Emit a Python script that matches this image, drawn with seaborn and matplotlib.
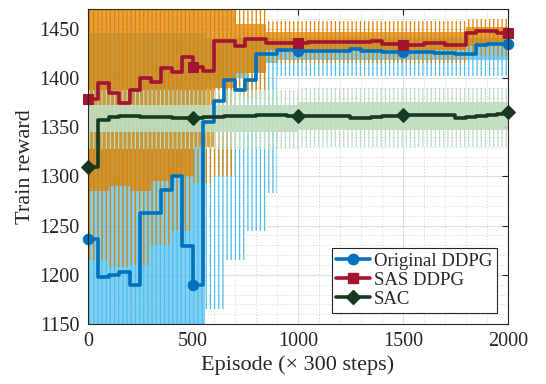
import numpy as np
import matplotlib
matplotlib.use('Agg')
import matplotlib.pyplot as plt
from matplotlib.lines import Line2D
from matplotlib.ticker import MultipleLocator
import seaborn as sns

# block values (one every 50 episodes, last one at 2000)
episodes = np.arange(0, 2001, 50)
orig_ddpg = [1236, 1198, 1200, 1203, 1190, 1263, 1263, 1286, 1300, 1229,
             1190, 1355, 1376, 1398, 1388, 1398, 1424, 1424, 1428, 1428,
             1427, 1427, 1427, 1427, 1427, 1429, 1427, 1427, 1426, 1426,
             1426, 1426, 1426, 1425, 1425, 1424, 1424, 1433, 1434, 1434, 1434]
sas_ddpg = [1378, 1395, 1385, 1374, 1388, 1400, 1396, 1410, 1406, 1421,
            1411, 1407, 1437, 1437, 1432, 1439, 1439, 1435, 1435, 1435,
            1435, 1436, 1436, 1436, 1436, 1436, 1436, 1437, 1434, 1434,
            1433, 1433, 1435, 1435, 1433, 1433, 1445, 1447, 1447, 1445, 1445]
sac = [1309, 1357, 1360, 1361, 1361, 1360, 1360, 1360, 1359, 1359,
       1359, 1360, 1360, 1361, 1361, 1361, 1362, 1362, 1362, 1361,
       1361, 1361, 1361, 1361, 1361, 1359, 1359, 1360, 1361, 1361,
       1362, 1362, 1362, 1362, 1362, 1359, 1360, 1361, 1362, 1363, 1365]
marker_idx = [0, 10, 20, 30, 40]

# spread of the raw per-episode rewards (dense core and sparse spikes)
orig_edges = [0, 560, 650, 760, 850, 900, 2000]
orig_core_lo = [1150, 1390, 1400, 1405, 1415, 1418]
orig_core_hi = [1445, 1440, 1440, 1440, 1440, 1440]
orig_spike_lo = [1150, 1165, 1215, 1245, 1283, 1402]
orig_spike_hi = [1445, 1445, 1445, 1445, 1445, 1442]

sas_edges = [0, 100, 200, 300, 400, 500, 600, 700, 850, 1800, 2000]
sas_core_lo = [1285, 1290, 1285, 1295, 1300, 1330, 1390, 1405, 1428, 1432]
sas_core_hi = [1470, 1470, 1470, 1470, 1470, 1470, 1470, 1455, 1446, 1452]
sas_spike_lo = [1215, 1208, 1210, 1230, 1245, 1293, 1300, 1380, 1415, 1422]
sas_spike_hi = [1470, 1470, 1470, 1470, 1470, 1470, 1470, 1470, 1458, 1460]

sac_edges = [0, 1000, 2000]
sac_core_lo = [1345, 1347]
sac_core_hi = [1372, 1375]
sac_spike_lo = [1328, 1330]
sac_spike_hi = [1388, 1390]

sns.set_theme(style='white')
plt.rcParams['font.family'] = ['Liberation Serif', 'DejaVu Serif']
plt.rcParams['hatch.linewidth'] = 0.9


def draw_spread(ax, edges, core_lo, core_hi, spike_lo, spike_hi, color, alpha):
    ext = lambda v: list(v) + [v[-1]]
    ax.fill_between(edges, ext(core_lo), ext(core_hi), step='post',
                    facecolor=color, alpha=alpha, linewidth=0)
    ax.fill_between(edges, ext(spike_lo), ext(spike_hi), step='post',
                    facecolor='none', edgecolor=color, hatch='||||', linewidth=0)


fig = plt.figure(figsize=(5.46, 3.84), dpi=100)
ax = fig.add_axes([0.161, 0.156, 0.769, 0.821])

draw_spread(ax, orig_edges, orig_core_lo, orig_core_hi, orig_spike_lo, orig_spike_hi, '#4DBEEE', 0.7)
draw_spread(ax, sas_edges, sas_core_lo, sas_core_hi, sas_spike_lo, sas_spike_hi, '#E08300', 0.75)
draw_spread(ax, sac_edges, sac_core_lo, sac_core_hi, sac_spike_lo, sac_spike_hi, '#BFDDBF', 0.9)

series = [('Original DDPG', orig_ddpg, '#0072BD', 'o', 7.5),
          ('SAS DDPG', sas_ddpg, '#A2142F', 's', 7.5),
          ('SAC', sac, '#173B22', 'D', 7)]
handles = []
for name, vals, col, mk, ms in series:
    sns.lineplot(x=episodes, y=vals, ax=ax, color=col, linewidth=2.6,
                 drawstyle='steps-post', marker=mk, markersize=ms,
                 markevery=marker_idx, markeredgecolor=col, markerfacecolor=col,
                 clip_on=False, zorder=3)
    handles.append(Line2D([], [], color=col, linewidth=2.6, marker=mk,
                          markersize=ms, markeredgecolor=col, label=name))

ax.set_xlim(0, 2000)
ax.set_ylim(1150, 1470)
ax.xaxis.set_major_locator(MultipleLocator(500))
ax.yaxis.set_major_locator(MultipleLocator(50))
ax.xaxis.set_minor_locator(MultipleLocator(100))
ax.yaxis.set_minor_locator(MultipleLocator(10))
ax.set_axisbelow(True)
ax.grid(which='major', color='#DEDEDE', linewidth=0.8, linestyle='-')
ax.grid(which='minor', color='#C4C4C4', linewidth=0.6, linestyle=(0, (1, 2.5)))
ax.tick_params(which='major', direction='in', length=4, width=0.8,
               top=True, right=True, labelsize=14.5, colors='#262626', pad=6)
ax.tick_params(which='minor', length=0)
for sp in ax.spines.values():
    sp.set_color('#262626')
    sp.set_linewidth(0.8)
    sp.set_zorder(4)

ax.set_xlabel('Episode (\u00d7 300 steps)', fontsize=16, color='#262626', labelpad=3)
ax.set_ylabel('Train reward', fontsize=16, color='#262626', labelpad=3)

leg = ax.legend(handles=handles, loc='lower right', bbox_to_anchor=(0.974, 0.036),
                borderaxespad=0, fontsize=13.5, handlelength=1.8, handletextpad=0.2,
                labelspacing=0.1, borderpad=0.25, fancybox=False, framealpha=1)
leg.get_frame().set_edgecolor('#262626')
leg.get_frame().set_linewidth(0.8)
leg.set_zorder(5)

fig.savefig('out.png', dpi=100)
